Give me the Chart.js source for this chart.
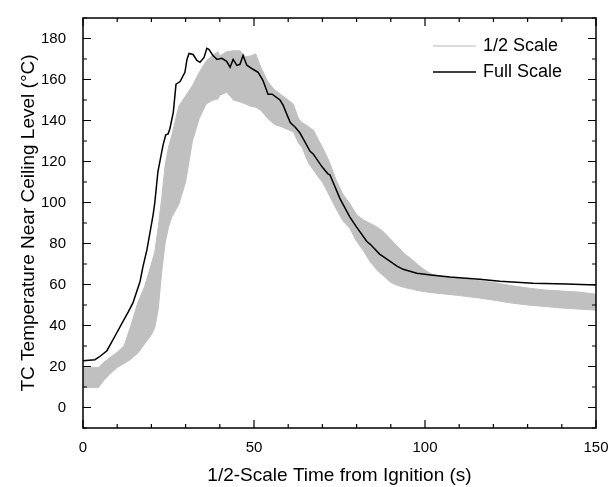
<!DOCTYPE html>
<html>
<head>
<meta charset="utf-8">
<script src="https://cdn.jsdelivr.net/npm/chart.js@4.4.1/dist/chart.umd.min.js"></script>
<style>
  html, body { margin: 0; padding: 0; background: #fff; }
  #grafico { display: block; }
</style>
</head>
<body>
<canvas id="grafico" width="615" height="487"></canvas>
<script>
// Full scale TC reading (time s, temperature C)
const fullTiempo = [0, 3.5, 5, 7, 9.4, 11.7, 13.2, 14.6, 16.7, 17.5, 18.7, 20.5, 21, 21.9, 23.4, 24.2, 24.9, 25.4, 26.4, 27.2, 28.4, 29.8, 30.4, 31, 32.2, 33.3, 34.2, 35.4, 36.2, 36.8, 38, 39.2, 40.6, 42, 43, 43.9, 45, 45.9, 46.8, 47.9, 49.7, 51.2, 52.6, 54.1, 55.3, 57.6, 58.5, 60.6, 62, 63.4, 64.4, 66.4, 67.3, 69.9, 71.6, 72.2, 75.1, 78, 80, 83, 84, 86.8, 87.7, 91.8, 93.6, 97.6, 102.3, 107.3, 112, 116, 121.9, 131.6, 141.4, 150];
const fullTemp = [22.8, 23.3, 25, 27.7, 35, 42, 46.5, 51, 61.6, 68.5, 77, 94, 100, 115, 128, 133, 133.5, 136, 144, 157.7, 159, 163.5, 169.8, 172.7, 172.2, 169.3, 168.4, 170.8, 175.2, 174.7, 171.7, 169.8, 170.3, 168.9, 166, 169.8, 166.9, 167.4, 171.7, 167, 165, 163.5, 159.6, 152.8, 152.8, 150, 147.5, 139, 136.8, 134, 131, 125, 123.7, 117.4, 114, 113.5, 102, 93, 88, 81, 79.6, 74.7, 73.7, 69, 67.4, 65.5, 64.5, 63.6, 63, 62.6, 61.6, 60.6, 60.2, 59.7];

// 1/2 scale band (upper and lower envelope)
const medioTiempo = [0, 2, 4.5, 6, 8, 10, 12, 13, 14, 16, 18, 20, 21, 22, 23, 24, 25, 26, 28, 30, 32, 34, 36, 38, 39.5, 40, 42, 44, 46, 47.5, 49, 50.5, 52, 54, 56, 58, 60, 61.5, 63, 64, 66, 67.5, 69, 70, 72, 74, 76, 78, 80, 82, 84, 86, 88, 90, 92, 94, 96, 98, 100, 102, 105, 110, 115, 120, 125, 130, 135, 140, 145, 150];
const medioAlto = [19.4, 19.4, 19.5, 22, 24.5, 27, 30, 35, 40, 51, 59, 70, 76, 88, 102, 118, 127, 133, 147, 152, 157, 163.5, 169, 172, 173.5, 171.5, 173.5, 174, 174, 171, 171.5, 172.5, 166, 159, 155, 152.5, 150, 148, 141, 139, 137, 135, 130, 127, 120, 111, 104, 99.5, 94, 91.5, 89.8, 88, 85.5, 82, 78.5, 75, 72.5, 69.5, 67, 65, 64, 63, 62, 61, 59.5, 58.3, 57.3, 56.8, 56.3, 55.3];
const medioBajo = [9.7, 9.7, 9.7, 13, 16.5, 19.5, 21.5, 22.5, 23.5, 26.5, 31, 35.5, 39, 48, 66, 80, 88, 93, 99, 110, 130, 141, 148, 150, 150.5, 152.3, 153.8, 150, 149, 148, 147, 146.5, 145, 141, 138, 137, 135.5, 134.5, 129, 127, 119, 115.5, 112, 110, 103.5, 97, 91, 87.5, 81, 76.5, 71, 67, 64, 61, 59.5, 58.5, 57.8, 57, 56.5, 56, 55.5, 54.6, 53.6, 52.4, 51, 50, 49.3, 48.5, 48, 47.5];

const ticksX = [0, 50, 100, 150];
const ticksY = [0, 20, 40, 60, 80, 100, 120, 140, 160, 180];
const menoresX = [10, 20, 30, 40, 60, 70, 80, 90, 110, 120, 130, 140];
const menoresY = [-10, 10, 30, 50, 70, 90, 110, 130, 150, 170, 190];

const etiquetas = ['1/2 Scale', 'Full Scale'];

const fuente = 'Liberation Sans, Arial, Helvetica, sans-serif';

const puntos = (xs, ys) => xs.map((x, i) => ({ x: x, y: ys[i] }));

// frame, inward ticks and legend
const marco = {
  id: 'marco',
  afterDraw(chart) {
    const ctx = chart.ctx;
    const a = chart.chartArea;
    const sx = chart.scales.x, sy = chart.scales.y;
    ctx.save();
    ctx.strokeStyle = '#000';
    ctx.lineWidth = 1.5;
    ctx.strokeRect(a.left, a.top, a.right - a.left, a.bottom - a.top);
    ctx.lineWidth = 1.2;
    ctx.beginPath();
    const tickX = (v, len) => {
      const p = sx.getPixelForValue(v);
      ctx.moveTo(p, a.bottom); ctx.lineTo(p, a.bottom - len);
      ctx.moveTo(p, a.top); ctx.lineTo(p, a.top + len);
    };
    const tickY = (v, len) => {
      const p = sy.getPixelForValue(v);
      ctx.moveTo(a.left, p); ctx.lineTo(a.left + len, p);
      ctx.moveTo(a.right, p); ctx.lineTo(a.right - len, p);
    };
    ticksX.forEach(v => tickX(v, 8));
    menoresX.forEach(v => tickX(v, 4));
    ticksY.forEach(v => tickY(v, 8));
    menoresY.forEach(v => tickY(v, 4));
    ctx.stroke();

    // legend
    const lx = a.right - 163;
    const filas = [a.top + 28, a.top + 54];
    const colores = ['#cfcfcf', '#000'];
    ctx.font = '18px ' + fuente;
    ctx.textBaseline = 'middle';
    ctx.fillStyle = '#000';
    etiquetas.forEach((t, i) => {
      ctx.beginPath();
      ctx.strokeStyle = colores[i];
      ctx.lineWidth = 1.5;
      ctx.moveTo(lx, filas[i]);
      ctx.lineTo(lx + 43, filas[i]);
      ctx.stroke();
      ctx.fillText(t, lx + 50, filas[i]);
    });
    ctx.restore();
  }
};

const config = {
  type: 'scatter',
  data: {
    datasets: [
      {
        label: etiquetas[1],
        data: puntos(fullTiempo, fullTemp),
        showLine: true,
        borderColor: '#000',
        borderWidth: 1.5,
        pointRadius: 0,
        fill: false
      },
      {
        label: etiquetas[0],
        data: puntos(medioTiempo, medioAlto),
        showLine: true,
        borderColor: '#c0c0c0',
        borderWidth: 1,
        backgroundColor: '#c0c0c0',
        pointRadius: 0,
        fill: '+1'
      },
      {
        label: etiquetas[0] + ' low',
        data: puntos(medioTiempo, medioBajo),
        showLine: true,
        borderColor: '#c0c0c0',
        borderWidth: 1,
        pointRadius: 0,
        fill: false
      }
    ]
  },
  options: {
    responsive: false,
    animation: false,
    layout: { padding: { left: 0, right: 19, top: 16, bottom: 0 } },
    plugins: { legend: { display: false }, tooltip: { enabled: false } },
    scales: {
      x: {
        type: 'linear',
        min: 0,
        max: 150,
        afterBuildTicks: s => { s.ticks = ticksX.map(v => ({ value: v })); },
        afterFit: s => { s.height = 59; },
        grid: { display: false },
        border: { display: false },
        ticks: { color: '#000', padding: 3, font: { family: fuente, size: 15 } },
        title: { display: true, text: '1/2-Scale Time from Ignition (s)', color: '#000', padding: { top: 0, bottom: 0 }, font: { family: fuente, size: 19 } }
      },
      y: {
        type: 'linear',
        min: -10,
        max: 190,
        afterBuildTicks: s => { s.ticks = ticksY.map(v => ({ value: v })); },
        afterFit: s => { s.width = 83; },
        grid: { display: false },
        border: { display: false },
        ticks: { color: '#000', padding: 9, font: { family: fuente, size: 15 } },
        title: { display: true, text: 'TC Temperature Near Ceiling Level (°C)', color: '#000', padding: { top: 17, bottom: 0 }, font: { family: fuente, size: 19 } }
      }
    }
  },
  plugins: [marco]
};

const miGrafico = new Chart(document.getElementById('grafico'), config);
</script>
</body>
</html>
